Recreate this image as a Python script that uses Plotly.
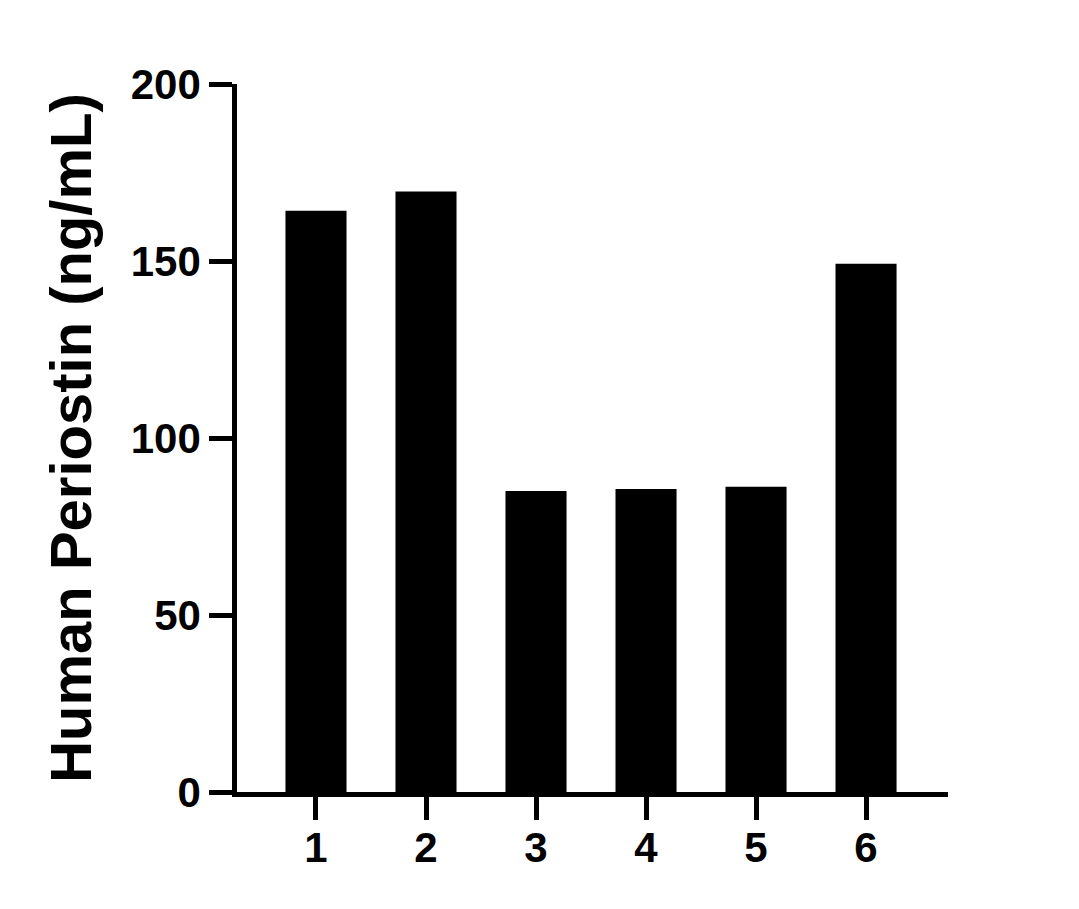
import plotly.graph_objects as go

categories = [1, 2, 3, 4, 5, 6]
values = [164.2, 169.6, 85.0, 85.6, 86.2, 149.2]
tick_labels = ["1", "2", "3", "4", "5", "6"]
y_title = "Human Periostin (ng/mL)"

fig = go.Figure()
fig.add_trace(go.Bar(
    x=categories, y=values, width=0.555,
    marker=dict(color="black", line=dict(width=0)),
))

font = "Liberation Sans, Arial, sans-serif"
fig.update_layout(
    width=1079, height=909,
    margin=dict(l=229, r=139, t=76, b=125, autoexpand=False),
    plot_bgcolor="white", paper_bgcolor="white",
    showlegend=False,
    font=dict(family=font, color="black"),
)
fig.update_xaxes(
    range=[0.282, 6.745], tickvals=categories, ticktext=tick_labels,
    showline=True, linecolor="black", linewidth=4.5,
    ticks="outside", ticklen=23, tickwidth=4.5, tickcolor="black",
    tickfont=dict(size=42, family=font, weight="bold"),
    ticklabelstandoff=-8,
    showgrid=False, zeroline=False,
)
fig.update_yaxes(
    range=[0, 200], tickvals=[0, 50, 100, 150, 200],
    showline=True, linecolor="black", linewidth=4.5,
    ticks="outside", ticklen=23, tickwidth=4.5, tickcolor="black",
    tickfont=dict(size=42, family=font, weight="bold"),
    showgrid=False, zeroline=False,
    title=dict(text=y_title, font=dict(size=58, family=font, weight="bold"), standoff=22),
)
fig.write_html("out.html")
